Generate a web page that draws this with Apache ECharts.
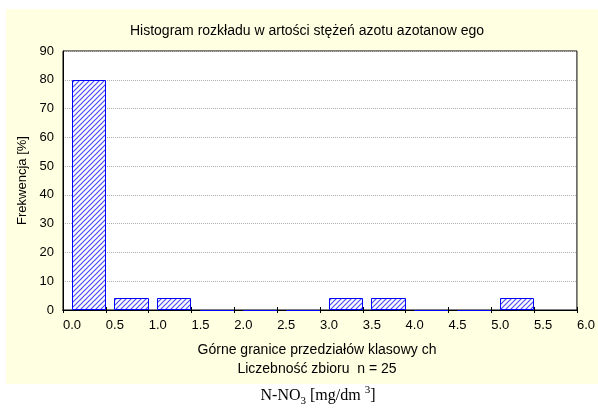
<!DOCTYPE html>
<html><head><meta charset="utf-8">
<script src="https://cdn.jsdelivr.net/npm/echarts@6/dist/echarts.min.js"></script>
<style>html,body{margin:0;padding:0;background:#fff}#c{width:598px;height:411px}</style>
</head><body><div id="c"></div>
<script>
const titleText = 'Histogram rozkładu w artości stężeń azotu azotanow ego';
const xAxisTitle = 'Górne granice przedziałów klasowy ch';
const nText = 'Liczebność zbioru  n = 25';
const yAxisTitle = 'Frekwencja [%]';
const binLow  = [0.0, 0.5, 1.0, 1.5, 2.0, 2.5, 3.0, 3.5, 4.0, 4.5, 5.0];
const binHigh = [0.5, 1.0, 1.5, 2.0, 2.5, 3.0, 3.5, 4.0, 4.5, 5.0, 5.5];
const freq    = [80, 4, 4, 0, 0, 0, 4, 4, 0, 0, 4];

const FONT = 'Liberation Sans, Arial, sans-serif';
const SERIF = 'Liberation Serif, Times New Roman, serif';

// hatch pattern
const pc = document.createElement('canvas');
pc.width = 5; pc.height = 5;
const g = pc.getContext('2d');
g.fillStyle = '#ffffff'; g.fillRect(0,0,5,5);
g.strokeStyle = '#4a4aff'; g.lineWidth = 1.2;
g.beginPath();
g.moveTo(-1,6); g.lineTo(6,-1);
g.moveTo(-1,1); g.lineTo(1,-1);
g.moveTo(4,6); g.lineTo(6,4);
g.stroke();

const data = binLow.map((lo,i)=>[lo, binHigh[i], freq[i]]);

const chart = echarts.init(document.getElementById('c'), null, {renderer:'canvas'});
chart.setOption({
  animation:false,
  backgroundColor:'#ffffff',
  graphic:[
    {type:'rect', z:-10, shape:{x:6,y:9,width:592,height:375}, style:{fill:'#FFFFE1'}, silent:true},
    {type:'text', style:{text:xAxisTitle, font:'14px '+FONT, fill:'#000', x:317, y:350, textAlign:'center', textVerticalAlign:'middle'}},
    {type:'text', style:{text:nText, font:'14px '+FONT, fill:'#000', x:317, y:369, textAlign:'center', textVerticalAlign:'middle'}},
    {type:'text', style:{
      text:'N-NO{sub|3} [mg/dm {sup|3}]',
      x:318, y:396, textAlign:'center', textVerticalAlign:'middle',
      rich:{
        sub:{fontFamily:SERIF, fontSize:11, verticalAlign:'bottom', lineHeight:22, padding:[6,0,0,0]},
        sup:{fontFamily:SERIF, fontSize:11, verticalAlign:'top', lineHeight:22, padding:[0,0,8,0]}
      },
      fontFamily:SERIF, fontSize:16, fill:'#000'}}
  ],
  title:{text:titleText, left:302, top:19, textAlign:'center',
    textStyle:{fontFamily:FONT, fontSize:14, fontWeight:'normal', color:'#000'}},
  grid:{left:63, right:21, top:51, bottom:101, show:true, backgroundColor:'#ffffff', borderColor:'#000', borderWidth:1},
  xAxis:[{
    type:'value', min:0, max:6, interval:0.5, position:'bottom',
    axisLine:{show:true, onZero:false, lineStyle:{color:'#000'}},
    axisTick:{show:true, inside:true, length:3, lineStyle:{color:'#000'}},
    axisLabel:{formatter:v=>v.toFixed(1), align:'left', margin:9, color:'#000', fontFamily:FONT, fontSize:13},
    splitLine:{show:false}
  },{
    type:'value', min:0, max:6, interval:0.5, position:'top',
    axisLine:{show:true, lineStyle:{color:'#000'}},
    axisTick:{show:true, inside:true, length:3, lineStyle:{color:'#000'}},
    axisLabel:{show:false}, splitLine:{show:false}
  }],
  yAxis:{
    type:'value', min:0, max:90, interval:10,
    name:yAxisTitle, nameLocation:'middle', nameGap:34,
    nameTextStyle:{fontFamily:FONT, fontSize:13, color:'#000'},
    axisLine:{show:true, lineStyle:{color:'#000'}},
    axisTick:{show:false},
    axisLabel:{color:'#000', fontFamily:FONT, fontSize:13, margin:9},
    splitLine:{show:true, lineStyle:{color:'#b0b0b0', type:[1,1], width:1}}
  },
  series:[{
    type:'custom', xAxisIndex:0,
    data:data,
    encode:{x:[0,1], y:2},
    renderItem:(params, api)=>{
      const lo=api.value(0), hi=api.value(1), v=api.value(2);
      const p0=api.coord([lo,0]), p1=api.coord([hi,v]);
      const w=p1[0]-p0[0];
      const x0=Math.round(p0[0]+w*0.2)+0.5, x1=Math.round(p1[0]-1)+0.5;
      const yt=Math.round(p1[1])+0.5, yb=Math.round(p0[1])-0.5;
      return {type:'rect', shape:{x:x0, y:yt, width:x1-x0, height:Math.max(0,yb-yt)},
        style:{fill:{image:pc, repeat:'repeat'}, stroke:'#0000ff', lineWidth:1}};
    }
  }]
});
</script></body></html>
